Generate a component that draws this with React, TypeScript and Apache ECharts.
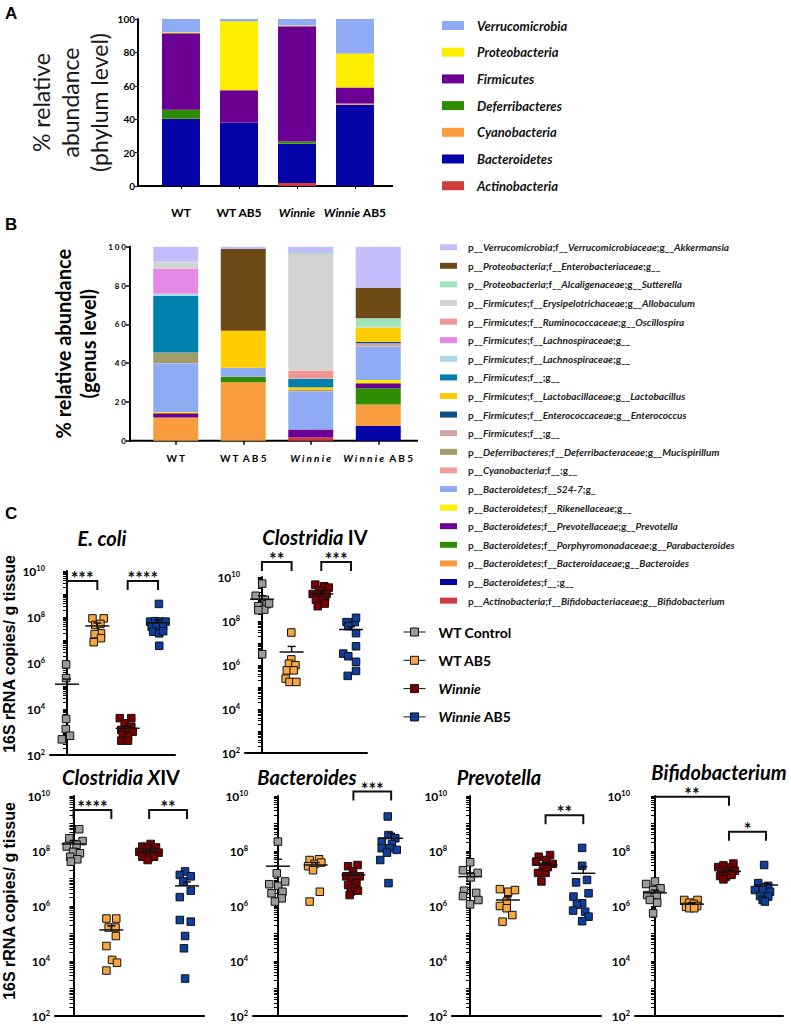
import React, { useEffect, useRef } from 'react';
import * as echarts from 'echarts';

const SANS = 'Lato, "Open Sans", sans-serif';
const ARIAL = '"Liberation Sans", Arial, sans-serif';

// ---------- Panel A: phylum level (% relative abundance) ----------
const sampleGroups = ['WT', 'WT AB5', 'Winnie', 'Winnie AB5'];
const actinobacteria = [0.1, 0.1, 1.8, 0.1];
const bacteroidetes = [40.0, 37.6, 23.4, 48.6];
const cyanobacteria = [0.1, 0.1, 0.1, 0.6];
const deferribacteres = [5.4, 0.1, 1.4, 0.1];
const firmicutes = [45.8, 19.4, 69.0, 9.6];
const proteobacteria = [0.6, 41.3, 0.4, 20.4];
const verrucomicrobia = [8.0, 1.4, 4.0, 20.6];
const phylumNames = ['Actinobacteria', 'Bacteroidetes', 'Cyanobacteria', 'Deferribacteres', 'Firmicutes', 'Proteobacteria', 'Verrucomicrobia'];
const phylumValues = [actinobacteria, bacteroidetes, cyanobacteria, deferribacteres, firmicutes, proteobacteria, verrucomicrobia];
const phylumColors = ['#d13b3b', '#0303a8', '#f89c3e', '#2e8c03', '#6c0094', '#ffee00', '#8fabf4'];

// ---------- Panel B: genus level (% relative abundance), stacked bottom -> top ----------
const genusNames = [
  'p__Actinobacteria;f__Bifidobacteriaceae;g__Bifidobacterium',
  'p__Bacteroidetes;f__;g__',
  'p__Bacteroidetes;f__Bacteroidaceae;g__Bacteroides',
  'p__Bacteroidetes;f__Porphyromonadaceae;g__Parabacteroides',
  'p__Bacteroidetes;f__Prevotellaceae;g__Prevotella',
  'p__Bacteroidetes;f__Rikenellaceae;g__',
  'p__Bacteroidetes;f__S24-7;g_',
  'p__Cyanobacteria;f__;g__',
  'p__Deferribacteres;f__Deferribacteraceae;g__Mucispirillum',
  'p__Firmicutes;f__;g__ ',
  'p__Firmicutes;f__Enterococcaceae;g__Enterococcus',
  'p__Firmicutes;f__Lactobacillaceae;g__Lactobacillus',
  'p__Firmicutes;f__;g__',
  'p__Firmicutes;f__Lachnospiraceae;g__ ',
  'p__Firmicutes;f__Lachnospiraceae;g__',
  'p__Firmicutes;f__Ruminococcaceae;g__Oscillospira',
  'p__Firmicutes;f__Erysipelotrichaceae;g__Allobaculum',
  'p__Proteobacteria;f__Alcaligenaceae;g__Sutterella',
  'p__Proteobacteria;f__Enterobacteriaceae;g__',
  'p__Verrucomicrobia;f__Verrucomicrobiaceae;g__Akkermansia',
];
const genusValues = [
  [0, 0, 1.7, 0],
  [0, 0, 0, 7.6],
  [12.0, 30.1, 0, 11.1],
  [0, 2.9, 0, 8.3],
  [2.1, 0, 4.1, 2.6],
  [0.7, 0, 0, 1.7],
  [25.1, 4.6, 19.5, 17.2],
  [0.1, 0, 0.2, 0],
  [5.5, 0, 0.8, 0],
  [0, 0, 0, 1.7],
  [0, 0, 0, 0.8],
  [0, 19.1, 1.2, 7.4],
  [29.2, 0, 4.3, 0],
  [1.2, 0, 0.2, 0.4],
  [12.7, 0, 0, 0],
  [0, 0, 4.0, 0],
  [3.3, 0, 60.2, 0],
  [0.3, 0, 0.6, 4.3],
  [0, 42.1, 0, 15.8],
  [7.9, 1.2, 3.4, 21.1],
];
const genusColors = [
  '#d13b3b', '#0303a8', '#f89c3e', '#2e8c03', '#6c0094', '#ffee00', '#8fabf4', '#f4a09a', '#a29b6a', '#cfa5a5',
  '#0b4f86', '#ffcc00', '#0081ad', '#add8e6', '#e688e6', '#f29590', '#d3d3d3', '#a0e5ba', '#6e4a17', '#c4bdfc',
];

// ---------- Panel C: 16S rRNA copies / g tissue ----------
const groups = ['WT Control', 'WT AB5', 'Winnie', 'Winnie AB5'];
const groupColors = ['#9b9b9b', '#f8a63e', '#7a0000', '#0c3f9e'];

const ecoliValues = [
  [8.7e5, 2.2e5, 3.7e3, 1.35e3, 6.9e2, 4.8e2],
  [8.7e7, 8.7e7, 4.5e7, 5e7, 1.95e7, 1.8e7, 1.2e7, 8e6],
  [4e3, 4e3, 2.4e3, 1.7e3, 1.23e3, 1.02e3, 1.02e3, 7.4e2, 6.3e2, 4.2e2, 4.2e2],
  [3.7e8, 6.3e7, 6.6e7, 6.3e7, 6.3e7, 3.8e7, 3.8e7, 4e7, 2.3e7, 1.95e7, 2.4e7, 5.6e6],
];
const ecoliJitter = [
  [-0.03, -0.03, -0.03, -0.04, 0.1, -0.17],
  [-0.16, 0.21, -0.07, 0.1, 0.12, -0.09, 0.12, -0.12],
  [-0.26, 0.12, -0.1, 0.12, -0.21, 0.01, 0.17, -0.16, 0.01, -0.21, 0.01],
  [0.03, -0.26, -0.1, 0.07, 0.25, -0.21, -0.04, 0.17, -0.16, 0.04, 0.17, 0.04],
];
const ecoliMean = [1.2e5, 4.1e7, 1.45e3, 5.6e7];
const ecoliSem = [2e5, 5.5e7, 1.8e3, 7.5e7];
const ecoliBrackets = [[0, 1, 3.7e9], [2, 3, 3.7e9]];
const ecoliStars = ['***', '****'];

const clostIVValues = [
  [5e9, 1.4e9, 9.3e8, 4.7e8, 5.8e8, 3.3e8, 3.1e8, 3.1e6, 6.3e8],
  [3e7, 1.8e6, 1.15e6, 9.8e5, 5.7e5, 5.7e5, 2.4e5, 1.7e5, 1.7e5],
  [4.5e9, 3.8e9, 3.3e9, 2.5e9, 1.7e9, 1.6e9, 1.7e9, 1.2e9, 9.3e8, 8.7e8, 4.7e8, 6.2e8],
  [8.9e7, 8.9e7, 5.8e7, 1.4e8, 2.8e7, 7.1e6, 3.3e6, 2.5e6, 1.4e6, 5.4e5, 3.2e5],
];
const clostIVJitter = [
  [0.01, -0.21, 0.1, -0.12, 0.16, 0.08, -0.12, 0.01, 0.24],
  [-0.01, -0.01, -0.09, 0.13, -0.16, 0.07, -0.2, -0.07, 0.16],
  [-0.2, 0.1, 0.25, -0.07, -0.29, -0.09, 0.18, 0.13, -0.18, 0.04, -0.12, 0.12],
  [-0.15, 0.13, -0.09, 0.17, 0.17, 0.17, -0.26, -0.09, 0.17, 0.17, -0.11],
];
const clostIVMean = [9.8e8, 3.9e6, 1.7e9, 4.1e7];
const clostIVSem = [1.4e9, 7e6, 2.2e9, 5.5e7];
const clostIVBrackets = [[0, 1, 4.8e10], [2, 3, 4.8e10]];
const clostIVStars = ['**', '***'];

const clostXIVValues = [
  [6.2e8, 2.9e8, 2.3e8, 1.7e8, 1.45e8, 9.3e7, 8.3e7, 6.2e7, 5e7, 4.1e7],
  [3.5e5, 3.5e5, 1.65e5, 1.65e5, 8.1e4, 3.5e4, 1.1e4, 8.7e3, 4.5e3],
  [1.8e8, 1.45e8, 1.26e8, 1.35e8, 9.3e7, 8.7e7, 9.3e7, 8.7e7, 6.2e7, 5.9e7, 6.2e7, 4.7e7],
  [1.8e7, 1.35e7, 1.2e7, 7.8e6, 3.6e6, 2.1e6, 3.1e5, 2.7e5, 8.1e4, 2.9e4, 2.3e3],
];
const clostXIVJitter = [
  [0.15, -0.11, 0.24, 0.08, -0.18, -0.01, 0.17, -0.09, 0.1, -0.07],
  [-0.13, 0.13, -0.07, 0.11, 0.12, -0.13, 0.02, 0.15, -0.13],
  [0.04, -0.18, -0.04, 0.18, -0.26, -0.09, 0.09, 0.25, -0.18, 0, 0.13, -0.04],
  [-0.05, -0.19, 0.1, -0.1, 0.1, -0.19, -0.19, 0.1, -0.05, -0.08, -0.05],
];
const clostXIVMean = [1.8e8, 1.35e5, 9.3e7, 5.4e6];
const clostXIVSem = [2.4e8, 1.9e5, 1.1e8, 7.5e6];
const clostXIVBrackets = [[0, 1, 3.1e9], [2, 3, 3.1e9]];
const clostXIVStars = ['****', '**'];

const bacteroidesValues = [
  [2.2e8, 1.55e7, 6.2e6, 5.4e6, 7.8e6, 3.3e6, 2.9e6, 1.9e6, 1.45e6],
  [4.7e7, 5e7, 3.4e7, 3.8e7, 2.8e7, 2e7, 3.3e6, 1.45e6],
  [2.8e7, 3.1e7, 1.8e7, 1.2e7, 1.2e7, 8.9e6, 6.8e6, 5.8e6, 4.4e6, 3.3e6, 3.6e6, 2.5e6],
  [1.8e9, 3.8e8, 2.9e8, 2.2e8, 1.8e8, 1.26e8, 1.26e8, 1.1e8, 8.7e7, 4.7e7, 6.8e6],
];
const bacteroidesJitter = [
  [0, -0.03, -0.23, 0.01, 0.19, 0.12, -0.17, 0.1, -0.08],
  [-0.16, 0.09, -0.03, 0.15, -0.2, -0.07, 0.11, -0.16],
  [-0.14, 0.11, -0.01, -0.19, 0.17, -0.05, 0.08, -0.14, 0.03, -0.07, 0.12, -0.1],
  [-0.09, -0.07, 0.11, -0.25, 0.02, -0.25, -0.03, 0.15, -0.11, -0.29, -0.07],
];
const bacteroidesMean = [2.8e7, 3.1e7, 1.35e7, 2.9e8];
const bacteroidesSem = [5e7, 3.8e7, 1.7e7, 4.4e8];
const bacteroidesBrackets = [[2, 3, 1.45e10]];
const bacteroidesStars = ['***'];

const prevotellaValues = [
  [3.9e7, 2e7, 1.6e7, 1.1e7, 3.6e6, 3e6, 2.3e6, 1.65e6, 1.15e6],
  [4.1e6, 3.3e6, 3.8e6, 1.45e6, 1e6, 8.3e5, 4.7e5, 2.7e5],
  [6.2e7, 7.1e7, 4.1e7, 4.7e7, 2.6e7, 3.4e7, 1.6e7, 1.6e7, 7.8e6, 2.6e7],
  [1.3e8, 2.9e7, 7.2e6, 8.9e6, 2.9e6, 2.2e6, 1.26e6, 1.1e6, 6.8e5, 6.2e5, 4.1e5, 2.8e5],
];
const prevotellaJitter = [
  [0, -0.19, 0.2, 0.02, -0.16, 0.16, -0.19, 0.22, 0],
  [-0.21, 0.01, 0.19, -0.03, -0.21, -0.03, 0.12, -0.14],
  [-0.18, 0.12, -0.25, 0.02, -0.07, 0.19, -0.2, 0, -0.11, 0.06],
  [-0.03, -0.03, -0.19, 0.1, 0.14, -0.26, -0.03, -0.17, -0.27, 0.05, 0.14, -0.03],
];
const prevotellaMean = [1.17e7, 1.65e6, 3.1e7, 1.55e7];
const prevotellaSem = [1.6e7, 2.2e6, 3.8e7, 2.7e7];
const prevotellaBrackets = [[2, 3, 2e9]];
const prevotellaStars = ['**'];

const bifidoValues = [
  [7.8e6, 6.3e6, 4.4e6, 3.8e6, 2.5e6, 2.5e6, 1.66e6, 1.32e6, 5.4e5],
  [1.66e6, 1.66e6, 1.32e6, 1.2e6, 9.3e5, 9.3e5, 1e6, 8.3e5, 8.3e5],
  [2.6e7, 3e7, 3.5e7, 2.5e7, 1.8e7, 1.9e7, 1.9e7, 1.23e7, 1.17e7, 1.35e7, 9.3e6],
  [3.1e7, 6.8e6, 5.4e6, 3.8e6, 3.8e6, 3.3e6, 2.3e6, 2.2e6, 1.66e6, 1.45e6],
];
const bifidoJitter = [
  [0, -0.24, 0.15, -0.05, -0.21, 0.05, -0.14, 0.06, -0.05],
  [-0.21, 0.15, -0.07, 0.05, -0.16, -0.01, 0.14, -0.07, 0.06],
  [-0.29, -0.15, 0.12, 0.03, -0.2, -0.05, 0.16, -0.24, -0.08, 0.07, -0.15],
  [-0.05, -0.21, 0.06, -0.3, -0.09, 0.11, -0.16, 0.06, -0.09, -0.03],
];
const bifidoMean = [3e6, 1.17e6, 1.8e7, 5.8e6];
const bifidoSem = [3.8e6, 1.3e6, 2.1e7, 6.6e6];
const bifidoBrackets = [[0, 2, 9.3e9], [2, 3, 5e8]];
const bifidoStars = ['**', '*'];

const logMajorTicks = [1e2, 1e4, 1e6, 1e8, 1e10];

// ---------- helpers ----------
const spaced = (s: string) => s.split(' ').map((w) => w.split('').join(' ')).join('  ');
const genusLabel = (name: string) =>
  name
    .trim()
    .split(';')
    .map((part) => {
      const m = part.match(/^([a-z]__?)(.*)$/);
      if (!m) return `{n|${part}}`;
      return `{n|${m[1]}}` + (m[2] ? `{i|${m[2]}}` : '');
    })
    .join('{n|;}');

function buildOption() {
  const logMinorTicks: number[] = [];
  for (let e = 2; e < 10; e++) for (let k = 1; k < 10; k++) logMinorTicks.push(k * Math.pow(10, e));
  logMinorTicks.push(1e10);

  const panels = [
    { title: '{i|E. coli}', cx: 102, cy: 538, values: ecoliValues, jitter: ecoliJitter, mean: ecoliMean, sem: ecoliSem, brackets: ecoliBrackets, stars: ecoliStars },
    { title: '{i|Clostridia} {n|IV}', cx: 315, cy: 537, values: clostIVValues, jitter: clostIVJitter, mean: clostIVMean, sem: clostIVSem, brackets: clostIVBrackets, stars: clostIVStars },
    { title: '{i|Clostridia X}{n|IV}', cx: 121, cy: 777, values: clostXIVValues, jitter: clostXIVJitter, mean: clostXIVMean, sem: clostXIVSem, brackets: clostXIVBrackets, stars: clostXIVStars },
    { title: '{i|Bacteroides}', cx: 307, cy: 777, values: bacteroidesValues, jitter: bacteroidesJitter, mean: bacteroidesMean, sem: bacteroidesSem, brackets: bacteroidesBrackets, stars: bacteroidesStars },
    { title: '{i|Prevotella}', cx: 499, cy: 777, values: prevotellaValues, jitter: prevotellaJitter, mean: prevotellaMean, sem: prevotellaSem, brackets: prevotellaBrackets, stars: prevotellaStars },
    { title: '{i|Bifidobacterium}', cx: 719, cy: 772, values: bifidoValues, jitter: bifidoJitter, mean: bifidoMean, sem: bifidoSem, brackets: bifidoBrackets, stars: bifidoStars },
  ];
  const panelGrids = [
    { left: 50, top: 571, width: 125, height: 184 },
    { left: 245, top: 577, width: 122, height: 176 },
    { left: 55, top: 796, width: 149, height: 220 },
    { left: 253, top: 796, width: 154, height: 220 },
    { left: 452, top: 796, width: 149, height: 220 },
    { left: 635, top: 796, width: 148, height: 220 },
  ];
  const panelX = [[-0.56, 3.56], [-0.57, 3.54], [-0.49, 3.45], [-0.66, 3.42], [-0.48, 3.47], [-0.54, 3.46]];
  const nameGaps = [33, 0, 38, 0, 0, 0];
  const namePads: any[] = [[0, 0, 0, 18], 0, [0, 0, 0, 10], 0, 0, 0];

  const grid: any[] = [
    { left: 152, top: 19, width: 232, height: 167, outerBoundsMode: 'none' },
    { left: 142, top: 246.7, width: 270, height: 194, outerBoundsMode: 'none' },
    ...panelGrids.map((g) => ({ ...g, outerBoundsMode: 'none' })),
  ];

  const italicBold = (size: number) => ({ fontFamily: SANS, fontSize: size, fontWeight: 'bold', fontStyle: 'italic', color: '#000' });

  const xAxis: any[] = [
    {
      gridIndex: 0, type: 'category', data: sampleGroups,
      axisLine: { show: false },
      axisTick: { show: true, alignWithLabel: true, length: 3, lineStyle: { color: '#000', width: 1 } },
      axisLabel: {
        interval: 0, margin: 20, fontFamily: SANS, fontSize: 12, fontWeight: 'bold', color: '#000',
        formatter: (v: string) => v.replace('Winnie', '{i|Winnie}'),
        rich: { i: italicBold(12) },
      },
      splitLine: { show: false },
    },
    {
      gridIndex: 1, type: 'category', data: sampleGroups,
      axisLine: { show: false },
      axisTick: { show: true, alignWithLabel: true, length: 4, lineStyle: { color: '#000', width: 1.5 } },
      axisLabel: {
        interval: 0, margin: 12, fontFamily: SANS, fontSize: 10, fontWeight: 'bold', color: '#000',
        formatter: (v: string) => spaced(v).replace('W i n n i e', '{i|W i n n i e}'),
        rich: { i: italicBold(10) },
      },
      splitLine: { show: false },
    },
    ...panels.map((_, k) => ({
      gridIndex: k + 2, type: 'value', min: panelX[k][0], max: panelX[k][1],
      axisLine: { show: true, onZero: false, lineStyle: { color: '#000', width: 2 } },
      axisTick: { show: false }, axisLabel: { show: false }, splitLine: { show: false },
    })),
  ];

  const yAxis: any[] = [
    {
      gridIndex: 0, type: 'value', min: 0, max: 100, interval: 20, offset: 14,
      name: '% relative\nabundance\n(phylum level)', nameLocation: 'middle', nameRotate: 90, nameGap: 24,
      nameTextStyle: { fontFamily: SANS, fontSize: 23, lineHeight: 29, color: '#1a1a1a' },
      axisLine: { show: true, lineStyle: { color: '#000', width: 2 } },
      axisTick: { show: true, length: 3, lineStyle: { color: '#000' } },
      axisLabel: { margin: 3, fontFamily: SANS, fontSize: 10, fontWeight: 'bold', color: '#000' },
      splitLine: { show: false },
    },
    {
      gridIndex: 1, type: 'value', min: 0, max: 100, interval: 20, offset: 12,
      name: '% relative abundance\n(genus level)', nameLocation: 'middle', nameRotate: 90, nameGap: 30,
      nameTextStyle: { fontFamily: SANS, fontSize: 20, fontWeight: 'bold', lineHeight: 25, color: '#000' },
      axisLine: { show: true, lineStyle: { color: '#000', width: 2 } },
      axisTick: { show: true, length: 4, lineStyle: { color: '#000', width: 1.5 } },
      axisLabel: { margin: 4, fontFamily: SANS, fontSize: 8, fontWeight: 'bold', color: '#000', formatter: (v: number) => String(v).split('').join(' ') },
      splitLine: { show: false },
    },
    ...panels.map((_, k) => ({
      gridIndex: k + 2, type: 'log', logBase: 10, min: 1e2, max: 1e10,
      name: nameGaps[k] ? '16S rRNA copies/ g tissue' : '',
      nameLocation: 'middle', nameRotate: 90, nameGap: nameGaps[k],
      nameTextStyle: { fontFamily: ARIAL, fontSize: 16, fontWeight: 'bold', color: '#000', padding: namePads[k] },
      axisLine: { show: true, lineStyle: { color: '#000', width: 2 } },
      axisTick: { show: true, customValues: logMinorTicks, length: 4, lineStyle: { color: '#000', width: 1 } },
      axisLabel: {
        customValues: logMajorTicks, margin: 5,
        formatter: (v: number) => {
          const e = v > 50 ? Math.round(Math.log10(v)) : Math.round(v);
          return `{b|10}{s|${e}}`;
        },
        rich: {
          b: { fontFamily: SANS, fontSize: 12, fontWeight: 'bold', color: '#000', lineHeight: 14 },
          s: { fontFamily: SANS, fontSize: 7.5, fontWeight: 'bold', color: '#000', lineHeight: 8, verticalAlign: 'top' },
        },
      },
      minorTick: { show: false },
      splitLine: { show: false },
    })),
  ];

  const series: any[] = [];
  phylumNames.forEach((name, i) => {
    series.push({
      type: 'bar', name, stack: 'phylum', xAxisIndex: 0, yAxisIndex: 0, barWidth: 38,
      itemStyle: { color: phylumColors[i] }, data: phylumValues[i],
    });
  });
  genusNames.forEach((name, i) => {
    series.push({
      type: 'bar', name, stack: 'genus', xAxisIndex: 1, yAxisIndex: 1, barWidth: 45,
      itemStyle: { color: genusColors[i] }, data: genusValues[i],
    });
  });
  panels.forEach((p, k) => {
    const ax = k + 2;
    groups.forEach((g, gi) => {
      series.push({
        type: 'scatter', name: g, xAxisIndex: ax, yAxisIndex: ax, symbol: 'rect', symbolSize: 7.5, z: 3,
        itemStyle: { color: groupColors[gi], borderColor: '#111', borderWidth: 1, opacity: 1 },
        data: p.values[gi].map((v, i) => [gi + p.jitter[gi][i], v]),
      });
    });
    series.push({
      type: 'custom', name: 'mean ± SEM', xAxisIndex: ax, yAxisIndex: ax, z: 5, silent: true,
      itemStyle: { color: '#111111' },
      encode: { x: 0, y: [1, 2] },
      data: p.mean.map((m, gi) => [gi, m, p.sem[gi]]),
      renderItem: (params: any, api: any) => {
        const pm = api.coord([api.value(0), api.value(1)]);
        const ps = api.coord([api.value(0), api.value(2)]);
        const st = { stroke: '#111111', lineWidth: 1.5 };
        return {
          type: 'group',
          children: [
            { type: 'line', shape: { x1: pm[0] - 12, y1: pm[1], x2: pm[0] + 12, y2: pm[1] }, style: st },
            { type: 'line', shape: { x1: pm[0], y1: pm[1], x2: ps[0], y2: ps[1] }, style: st },
            { type: 'line', shape: { x1: ps[0] - 4, y1: ps[1], x2: ps[0] + 4, y2: ps[1] }, style: st },
          ],
        };
      },
    });
    series.push({
      type: 'custom', name: 'significance', xAxisIndex: ax, yAxisIndex: ax, z: 5, silent: true, clip: false,
      itemStyle: { color: '#111111' },
      encode: { x: [0, 1], y: 2 },
      data: p.brackets,
      renderItem: (params: any, api: any) => {
        const a = api.coord([api.value(0), api.value(2)]);
        const b = api.coord([api.value(1), api.value(2)]);
        return {
          type: 'polyline',
          shape: { points: [[a[0], a[1] + 9], [a[0], a[1]], [b[0], b[1]], [b[0], b[1] + 9]] },
          style: { stroke: '#111111', lineWidth: 2, fill: null },
        };
      },
    });
    series.push({
      type: 'scatter', name: 'significance stars', xAxisIndex: ax, yAxisIndex: ax, z: 6, silent: true, clip: false,
      symbol: 'rect', symbolSize: 1, itemStyle: { color: 'rgba(255,255,255,0)', borderWidth: 0, opacity: 1 },
      data: p.brackets.map((b) => [(b[0] + b[1]) / 2, b[2]]),
      label: {
        show: true, position: 'inside', offset: [0, -3],
        formatter: (prm: any) => p.stars[prm.dataIndex],
        fontFamily: SANS, fontSize: 18, fontWeight: 'bold', color: '#111111', lineHeight: 12,
        align: 'center', verticalAlign: 'middle', opacity: 1,
      },
    });
  });

  const title = panels.map((p) => ({
    text: p.title, left: p.cx, top: p.cy - 10, textAlign: 'center', padding: 0,
    textStyle: {
      rich: {
        i: { fontFamily: SANS, fontSize: 20, fontWeight: 'bold', fontStyle: 'italic', color: '#000', lineHeight: 20 },
        n: { fontFamily: SANS, fontSize: 20, fontWeight: 'bold', color: '#000', lineHeight: 20 },
      },
    },
  }));

  const legend: any[] = [
    {
      orient: 'vertical', left: 437, top: 14, itemWidth: 22, itemHeight: 9, itemGap: 13.7, icon: 'rect',
      selectedMode: false, data: [...phylumNames].reverse(),
      formatter: (name: string) => `{gap| }{t|${name}}`,
      textStyle: {
        rich: {
          gap: { width: 8 },
          t: { fontFamily: SANS, fontSize: 13, fontWeight: 'bold', fontStyle: 'italic', color: '#111', lineHeight: 14 },
        },
      },
    },
    {
      orient: 'vertical', left: 435, top: 236.2, itemWidth: 17, itemHeight: 6, itemGap: 6.6, icon: 'rect',
      selectedMode: false, data: [...genusNames].reverse(),
      formatter: (name: string) => `{gap| }${genusLabel(name)}`,
      textStyle: {
        rich: {
          gap: { width: 6 },
          n: { fontFamily: SANS, fontSize: 10, fontWeight: 'bold', color: '#222', lineHeight: 11 },
          i: { fontFamily: SANS, fontSize: 10, fontWeight: 'bold', fontStyle: 'italic', color: '#222', lineHeight: 11 },
        },
      },
    },
    {
      orient: 'vertical', left: 398, top: 619, itemWidth: 22, itemHeight: 8, itemGap: 12.3,
      icon: 'path://M0,5H7M7,1H15V9H7ZM15,5H22',
      itemStyle: { borderColor: '#111', borderWidth: 1 },
      selectedMode: false, data: groups,
      formatter: (name: string) => `{gap| }` + name.replace('Winnie', '{i|Winnie}'),
      textStyle: {
        fontFamily: SANS, fontSize: 14, fontWeight: 'bold', color: '#000', lineHeight: 16,
        rich: {
          gap: { width: 8 },
          i: { fontFamily: SANS, fontSize: 14, fontWeight: 'bold', fontStyle: 'italic', color: '#000', lineHeight: 16 },
        },
      },
    },
  ];

  const letter = (t: string, x: number, y: number) => ({
    type: 'text', x, y, style: { text: t, fontFamily: ARIAL, fontSize: 17, fontWeight: 'bold', fill: '#000' },
  });
  const graphic = [
    letter('A', 5, 5),
    letter('B', 5, 216),
    letter('C', 5, 505),
    { type: 'line', shape: { x1: 137, y1: 186, x2: 393, y2: 186 }, style: { stroke: '#000', lineWidth: 2 } },
    { type: 'line', shape: { x1: 129, y1: 440.7, x2: 418, y2: 440.7 }, style: { stroke: '#000', lineWidth: 2 } },
  ];

  return {
    animation: false,
    backgroundColor: '#fff',
    textStyle: { fontFamily: SANS },
    tooltip: { show: false },
    title, legend, grid, xAxis, yAxis, series, graphic,
  };
}

export default function App() {
  const ref = useRef<HTMLDivElement>(null);
  useEffect(() => {
    document.body.style.margin = '0';
    const chart = echarts.init(ref.current as HTMLDivElement, null, { renderer: 'svg' });
    chart.setOption(buildOption() as any);
    return () => chart.dispose();
  }, []);
  return <div ref={ref} style={{ width: 791, height: 1024 }} />;
}
